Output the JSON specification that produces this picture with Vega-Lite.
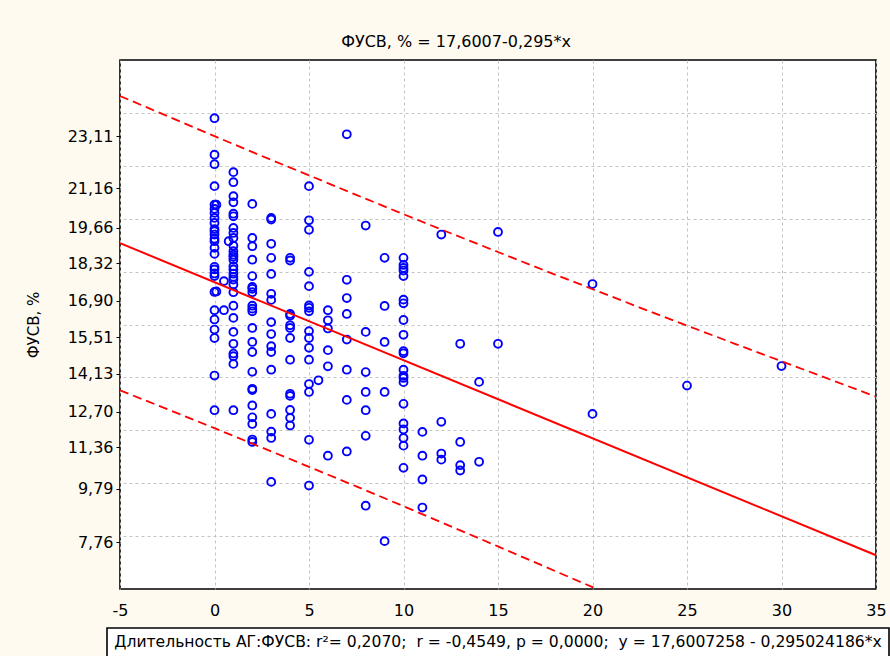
{
  "$schema": "https://vega.github.io/schema/vega-lite/v6.json",
  "background": "#fefaf0",
  "padding": {"left": 25, "top": 33, "right": 0, "bottom": 0},
  "bounds": "flush",
  "center": true,
  "spacing": 39,
  "config": {
    "font": "DejaVu Sans",
    "view": {"stroke": "#000000", "strokeWidth": 1.6, "fill": "#ffffff"},
    "axis": {
      "domain": false,
      "labelFont": "DejaVu Sans",
      "labelFontSize": 16,
      "labelColor": "#000000",
      "tickColor": "#000000",
      "gridColor": "#c4c4c4",
      "gridDash": [3, 3],
      "gridWidth": 1,
      "titleFont": "DejaVu Sans",
      "titleFontWeight": "normal",
      "titleColor": "#000000"
    },
    "title": {"font": "DejaVu Sans", "fontWeight": "normal", "fontSize": 16, "color": "#000000"}
  },
  "datasets": {
    "points": [
      {"x": 0, "y": 23.80}, {"x": 0, "y": 22.42}, {"x": 0, "y": 22.06}, {"x": 0, "y": 21.23}, {"x": 0, "y": 20.53},
      {"x": 0.1, "y": 20.53}, {"x": 0, "y": 20.37}, {"x": 0, "y": 20.22}, {"x": 0, "y": 20.03}, {"x": 0, "y": 19.84},
      {"x": 0, "y": 19.61}, {"x": 0, "y": 19.53}, {"x": 0, "y": 19.40}, {"x": 0, "y": 19.24}, {"x": 0, "y": 19.15},
      {"x": 0, "y": 18.90}, {"x": 0, "y": 18.67}, {"x": 0, "y": 18.18}, {"x": 0, "y": 18.08}, {"x": 0, "y": 17.93},
      {"x": 0, "y": 17.83}, {"x": 0, "y": 17.23}, {"x": 0.1, "y": 17.25}, {"x": 0, "y": 16.54}, {"x": 0, "y": 16.19},
      {"x": 0, "y": 15.81}, {"x": 0, "y": 15.49}, {"x": 0, "y": 14.07}, {"x": 0, "y": 12.76},
      {"x": 0.5, "y": 17.64}, {"x": 0.5, "y": 16.54}, {"x": 0.75, "y": 19.15},
      {"x": 1, "y": 21.76}, {"x": 1, "y": 21.38}, {"x": 1, "y": 20.85}, {"x": 1, "y": 20.62}, {"x": 1, "y": 20.19},
      {"x": 1, "y": 20.09}, {"x": 1, "y": 19.65}, {"x": 1, "y": 19.46}, {"x": 1, "y": 19.27}, {"x": 1, "y": 18.98},
      {"x": 1, "y": 18.77}, {"x": 1, "y": 18.64}, {"x": 1, "y": 18.56}, {"x": 1, "y": 18.45}, {"x": 1, "y": 18.20},
      {"x": 1, "y": 18.08}, {"x": 1, "y": 17.92}, {"x": 1, "y": 17.80}, {"x": 1, "y": 17.70}, {"x": 1, "y": 17.51},
      {"x": 1, "y": 17.22}, {"x": 1, "y": 16.71}, {"x": 1, "y": 16.25}, {"x": 1, "y": 15.72}, {"x": 1, "y": 15.27},
      {"x": 1, "y": 14.90}, {"x": 1, "y": 14.80}, {"x": 1, "y": 14.51}, {"x": 1, "y": 12.76},
      {"x": 2, "y": 20.56}, {"x": 2, "y": 19.27}, {"x": 2, "y": 18.96}, {"x": 2, "y": 18.45}, {"x": 2, "y": 17.83},
      {"x": 2, "y": 17.42}, {"x": 2, "y": 17.35}, {"x": 2, "y": 17.22}, {"x": 2, "y": 16.71}, {"x": 2, "y": 16.60},
      {"x": 2, "y": 16.50}, {"x": 2, "y": 15.87}, {"x": 2, "y": 15.34}, {"x": 2, "y": 14.96}, {"x": 2, "y": 14.21},
      {"x": 2, "y": 13.57}, {"x": 2, "y": 13.52}, {"x": 2, "y": 12.94}, {"x": 2, "y": 12.49}, {"x": 2, "y": 12.24},
      {"x": 2, "y": 11.65}, {"x": 2, "y": 11.56},
      {"x": 3, "y": 20.03}, {"x": 3, "y": 19.97}, {"x": 3, "y": 19.05}, {"x": 3, "y": 18.52}, {"x": 3, "y": 17.91},
      {"x": 3, "y": 17.16}, {"x": 3, "y": 16.93}, {"x": 3, "y": 16.09}, {"x": 3, "y": 15.64}, {"x": 3, "y": 15.18},
      {"x": 3, "y": 14.96}, {"x": 3, "y": 14.29}, {"x": 3, "y": 12.62}, {"x": 3, "y": 11.95}, {"x": 3, "y": 11.71},
      {"x": 3, "y": 10.05},
      {"x": 4, "y": 18.52}, {"x": 4, "y": 18.42}, {"x": 4, "y": 16.40}, {"x": 4, "y": 16.33}, {"x": 4, "y": 15.97},
      {"x": 4, "y": 15.87}, {"x": 4, "y": 15.49}, {"x": 4, "y": 14.67}, {"x": 4, "y": 13.38}, {"x": 4, "y": 13.30},
      {"x": 4, "y": 12.77}, {"x": 4, "y": 12.47}, {"x": 4, "y": 12.18},
      {"x": 5, "y": 21.23}, {"x": 5, "y": 19.94}, {"x": 5, "y": 19.58}, {"x": 5, "y": 17.99}, {"x": 5, "y": 17.45},
      {"x": 5, "y": 16.72}, {"x": 5, "y": 16.63}, {"x": 5, "y": 16.50}, {"x": 5, "y": 15.75}, {"x": 5, "y": 15.49},
      {"x": 5, "y": 15.12}, {"x": 5, "y": 14.67}, {"x": 5, "y": 13.75}, {"x": 5, "y": 13.45}, {"x": 5, "y": 11.64},
      {"x": 5, "y": 9.91}, {"x": 5.5, "y": 13.89},
      {"x": 6, "y": 16.54}, {"x": 6, "y": 16.16}, {"x": 6, "y": 15.85}, {"x": 6, "y": 15.03}, {"x": 6, "y": 14.42},
      {"x": 6, "y": 11.04},
      {"x": 7, "y": 23.19}, {"x": 7, "y": 17.69}, {"x": 7, "y": 17.00}, {"x": 7, "y": 16.40}, {"x": 7, "y": 15.43},
      {"x": 7, "y": 14.29}, {"x": 7, "y": 13.15}, {"x": 7, "y": 11.20},
      {"x": 8, "y": 19.74}, {"x": 8, "y": 15.72}, {"x": 8, "y": 14.20}, {"x": 8, "y": 13.45}, {"x": 8, "y": 12.76},
      {"x": 8, "y": 11.79}, {"x": 8, "y": 9.15},
      {"x": 9, "y": 18.52}, {"x": 9, "y": 16.70}, {"x": 9, "y": 15.34}, {"x": 9, "y": 13.45}, {"x": 9, "y": 7.81},
      {"x": 10, "y": 18.52}, {"x": 10, "y": 18.25}, {"x": 10, "y": 18.14}, {"x": 10, "y": 18.04}, {"x": 10, "y": 17.83},
      {"x": 10, "y": 16.94}, {"x": 10, "y": 16.80}, {"x": 10, "y": 16.17}, {"x": 10, "y": 15.61}, {"x": 10, "y": 14.99},
      {"x": 10, "y": 14.91}, {"x": 10, "y": 14.29}, {"x": 10, "y": 14.06}, {"x": 10, "y": 13.98}, {"x": 10, "y": 13.82},
      {"x": 10, "y": 13.00}, {"x": 10, "y": 12.26}, {"x": 10, "y": 12.03}, {"x": 10, "y": 11.71}, {"x": 10, "y": 11.42},
      {"x": 10, "y": 10.58},
      {"x": 11, "y": 11.94}, {"x": 11, "y": 11.04}, {"x": 11, "y": 10.14}, {"x": 11, "y": 9.08},
      {"x": 12, "y": 19.40}, {"x": 12, "y": 12.32}, {"x": 12, "y": 11.12}, {"x": 12, "y": 10.89},
      {"x": 13, "y": 15.27}, {"x": 13, "y": 11.56}, {"x": 13, "y": 10.68}, {"x": 13, "y": 10.48},
      {"x": 14, "y": 13.83}, {"x": 14, "y": 10.81},
      {"x": 15, "y": 19.50}, {"x": 15, "y": 15.27},
      {"x": 20, "y": 17.53}, {"x": 20, "y": 12.62},
      {"x": 25, "y": 13.69},
      {"x": 30, "y": 14.43}
    ],
    "fit": [
      {"x": -5, "y": 19.0758},
      {"x": 35, "y": 7.2749}
    ],
    "band": [
      {"x": -5, "upper": 24.64, "lower": 13.51},
      {"x": -2.5, "upper": 23.88, "lower": 12.80},
      {"x": 0, "upper": 23.12, "lower": 12.08},
      {"x": 2.5, "upper": 22.37, "lower": 11.35},
      {"x": 5, "upper": 21.64, "lower": 10.62},
      {"x": 7.5, "upper": 20.90, "lower": 9.88},
      {"x": 10, "upper": 20.17, "lower": 9.13},
      {"x": 12.5, "upper": 19.45, "lower": 8.37},
      {"x": 15, "upper": 18.74, "lower": 7.61},
      {"x": 17.5, "upper": 18.03, "lower": 6.84},
      {"x": 20, "upper": 17.34, "lower": 6.07},
      {"x": 22.5, "upper": 16.64, "lower": 5.28},
      {"x": 25, "upper": 15.96, "lower": 4.50},
      {"x": 27.5, "upper": 15.28, "lower": 3.70},
      {"x": 30, "upper": 14.61, "lower": 2.90},
      {"x": 32.5, "upper": 13.94, "lower": 2.09},
      {"x": 35, "upper": 13.27, "lower": 1.27}
    ]
  },
  "vconcat": [
    {
      "width": 756,
      "height": 529,
      "title": {"text": "ФУСВ, % = 17,6007-0,295*x", "anchor": "middle", "frame": "bounds", "offset": 10},
      "encoding": {
        "x": {
          "field": "x",
          "type": "quantitative",
          "scale": {"domain": [-5, 35], "nice": false, "zero": false},
          "axis": {
            "values": [-5, 0, 5, 10, 15, 20, 25, 30, 35],
            "labelExpr": "'' + datum.value",
            "title": null,
            "grid": true,
            "ticks": false,
            "labelPadding": 13,
            "labelFlush": false
          }
        }
      },
      "layer": [
        {
          "data": {"name": "points"},
          "mark": {"type": "point", "shape": "circle", "filled": false, "color": "#0000ff", "size": 62, "strokeWidth": 1.9, "opacity": 1},
          "encoding": {
            "y": {
              "field": "y",
              "type": "quantitative",
              "scale": {"domain": [6, 26], "nice": false, "zero": false},
              "axis": {
                "values": [7.76, 9.79, 11.36, 12.70, 14.13, 15.51, 16.90, 18.32, 19.66, 21.16, 23.11],
                "labelExpr": "replace(format(datum.value, '.2f'), '.', ',')",
                "grid": false,
                "ticks": true,
                "tickSize": 4,
                "labelPadding": 3,
                "title": "ФУСВ, %",
                "titleFontSize": 15,
                "titleX": -87,
                "titleBaseline": "middle"
              }
            }
          }
        },
        {
          "data": {"name": "fit"},
          "mark": {"type": "line", "color": "#ff0000", "strokeWidth": 2},
          "encoding": {
            "y": {
              "field": "y",
              "type": "quantitative",
              "scale": {"domain": [6, 26], "nice": false, "zero": false},
              "axis": {
                "orient": "right",
                "values": [8, 10, 12, 14, 16, 18, 20, 22, 24],
                "grid": true,
                "labels": false,
                "ticks": false,
                "domain": false,
                "title": null
              }
            }
          }
        },
        {
          "data": {"name": "band"},
          "mark": {"type": "line", "color": "#ff0000", "strokeWidth": 1.8, "strokeDash": [9, 5], "clip": true},
          "encoding": {
            "y": {"field": "upper", "type": "quantitative", "scale": {"domain": [6, 26], "nice": false, "zero": false}, "axis": null}
          }
        },
        {
          "data": {"name": "band"},
          "mark": {"type": "line", "color": "#ff0000", "strokeWidth": 1.8, "strokeDash": [9, 5], "clip": true},
          "encoding": {
            "y": {"field": "lower", "type": "quantitative", "scale": {"domain": [6, 26], "nice": false, "zero": false}, "axis": null}
          }
        }
      ],
      "resolve": {"axis": {"y": "independent"}}
    },
    {
      "width": 782,
      "height": 29,
      "view": {"stroke": "#000000", "strokeWidth": 1.6, "fill": "#ffffff"},
      "data": {"values": [{"label": "Длительность АГ:ФУСВ: r²= 0,2070; \u00a0r = -0,4549, p = 0,0000; \u00a0y = 17,6007258 - 0,295024186*x"}]},
      "mark": {"type": "text", "fontSize": 15.6, "color": "#000000", "dy": -1},
      "encoding": {"text": {"field": "label"}}
    }
  ]
}
